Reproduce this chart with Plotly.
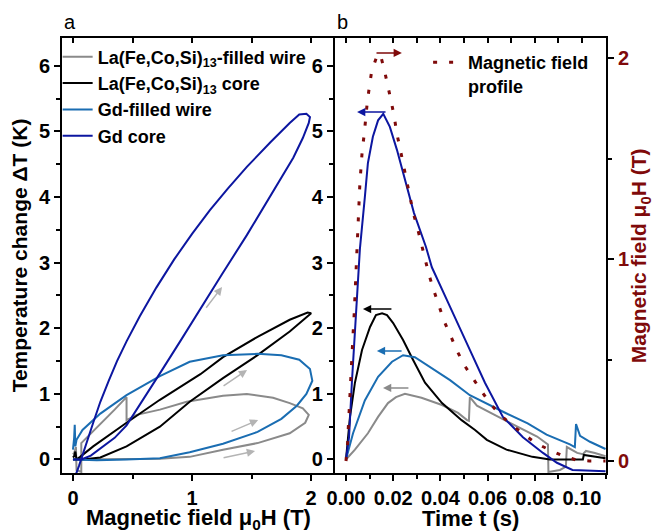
import plotly.graph_objects as go

# ---------------- data: panel a (temperature change vs field) ----------------
la_wire_H = [0.00, 0.10, 0.45, 0.73, 0.98, 1.26, 1.55, 1.82, 1.95, 1.98, 1.93, 1.82, 1.68, 1.46, 1.26, 1.07,
             0.955, 0.73, 0.535, 0.45, 0.45, 0.35, 0.25, 0.17, 0.07, 0.07, 0.03, 0.025, 0.01, 0.00]
la_wire_dT = [0.00, 0.00, 0.00, 0.01, 0.04, 0.15, 0.25, 0.40, 0.56, 0.68, 0.78, 0.86, 0.94, 1.00, 0.97, 0.91,
              0.88, 0.76, 0.68, 0.60, 0.95, 0.76, 0.58, 0.43, 0.25, -0.19, -0.16, 0.19, 0.10, 0.08]

la_core_H = [0.00, 0.08, 0.23, 0.45, 0.73, 0.98, 1.26, 1.55, 1.82, 1.96, 2.00, 1.97, 1.82, 1.55, 1.26, 1.07,
             0.73, 0.45, 0.17, 0.06, 0.03, 0.02, 0.01, 0.00]
la_core_dT = [0.00, 0.00, 0.03, 0.20, 0.50, 0.88, 1.24, 1.59, 1.95, 2.17, 2.23, 2.24, 2.13, 1.87, 1.56, 1.30,
              0.91, 0.56, 0.20, 0.04, 0.00, 0.12, 0.05, 0.03]

gd_wire_H = [0.00, 0.20, 0.45, 0.73, 0.98, 1.26, 1.55, 1.75, 1.88, 1.96, 2.01, 1.99, 1.90, 1.75, 1.55, 1.26,
             0.98, 0.73, 0.45, 0.23, 0.08, 0.03, 0.02, 0.015, 0.01, 0.005, 0.00]
gd_wire_dT = [0.00, -0.01, 0.00, 0.02, 0.11, 0.24, 0.42, 0.62, 0.82, 1.00, 1.20, 1.38, 1.52, 1.59, 1.61, 1.59,
              1.49, 1.27, 0.98, 0.70, 0.45, 0.30, 0.20, 0.53, 0.33, 0.22, 0.15]

gd_core_H = [0.00, 0.07, 0.15, 0.25, 0.35, 0.45, 0.59, 0.75, 0.90, 1.07, 1.25, 1.46, 1.62, 1.74, 1.85, 1.93,
             1.98, 1.99, 1.96, 1.90, 1.82, 1.66, 1.46, 1.30, 1.15, 1.00, 0.85, 0.70, 0.56, 0.45, 0.37,
             0.30, 0.23, 0.17, 0.12, 0.08, 0.05, 0.03, 0.02]
gd_core_dT = [0.00, 0.00, 0.06, 0.19, 0.33, 0.52, 0.91, 1.37, 1.80, 2.30, 2.82, 3.42, 3.90, 4.25, 4.60, 4.90,
              5.13, 5.22, 5.27, 5.26, 5.13, 4.84, 4.46, 4.13, 3.80, 3.44, 3.05, 2.62, 2.18, 1.80, 1.50,
              1.20, 0.88, 0.56, 0.27, 0.05, -0.10, -0.20, -0.25]

# ---------------- data: panel b (time traces) ----------------
t_la_wire = [0.0, 0.0038, 0.0093, 0.0136, 0.0178, 0.0212, 0.0250, 0.0320, 0.0407, 0.0475, 0.0513, 0.0521,
             0.0525, 0.0555, 0.0640, 0.0725, 0.0810, 0.0856, 0.0858, 0.0907, 0.0932, 0.0936, 0.0980, 0.1004,
             0.1017, 0.1055, 0.1100]
dT_la_wire = [0.0, 0.15, 0.40, 0.65, 0.86, 0.95, 1.00, 0.94, 0.83, 0.71, 0.60, 0.59,
              0.95, 0.82, 0.66, 0.50, 0.35, 0.23, -0.19, -0.16, -0.11, 0.19, 0.10, 0.08,
              0.13, 0.10, 0.05]

t_la_core = [0.0, 0.0017, 0.0038, 0.0068, 0.0102, 0.0127, 0.0153, 0.0174, 0.0200, 0.0242, 0.0284, 0.0335,
             0.0407, 0.0490, 0.0547, 0.0597, 0.0680, 0.0790, 0.0864, 0.1004, 0.1008, 0.1055, 0.1100]
dT_la_core = [0.0, 0.65, 1.17, 1.67, 2.02, 2.20, 2.23, 2.20, 2.08, 1.82, 1.52, 1.17,
              0.86, 0.60, 0.45, 0.30, 0.15, 0.04, 0.00, 0.00, 0.07, 0.05, 0.02]

t_gd_wire = [0.0, 0.0030, 0.0080, 0.0136, 0.0195, 0.0242, 0.0292, 0.0356, 0.0441, 0.0525, 0.0600, 0.0670,
             0.0770, 0.0850, 0.0949, 0.0970, 0.0975, 0.0992, 0.1034, 0.1100]
dT_gd_wire = [0.0, 0.40, 0.90, 1.26, 1.49, 1.59, 1.56, 1.41, 1.21, 0.98, 0.84, 0.72,
              0.55, 0.38, 0.23, 0.19, 0.54, 0.36, 0.27, 0.16]

t_gd_core = [0.0, 0.0013, 0.0025, 0.0042, 0.0059, 0.0080, 0.0093, 0.0114, 0.0136, 0.0158, 0.0186, 0.0216,
             0.0250, 0.0288, 0.0339, 0.0364, 0.0428, 0.0490, 0.0525, 0.0589, 0.0665, 0.0750, 0.0835, 0.0894,
             0.0960, 0.1100]
dT_gd_core = [0.0, 0.34, 1.17, 2.17, 3.21, 4.00, 4.52, 4.92, 5.17, 5.27, 5.07, 4.72,
              4.26, 3.76, 3.24, 2.93, 2.43, 1.93, 1.67, 1.17, 0.65, 0.34, 0.10, -0.05,
              -0.16, -0.18]

field_t = [0.0, 0.0007, 0.0010, 0.0013, 0.0016, 0.0020, 0.0024, 0.0027, 0.0031, 0.0035, 0.0038, 0.0041,
           0.0044, 0.0046, 0.0048, 0.0052, 0.0055, 0.0059, 0.0064, 0.0069, 0.0077, 0.0083, 0.0090, 0.0099,
           0.0109, 0.0130, 0.0145, 0.0162, 0.0175, 0.0191, 0.0205, 0.0215, 0.0229, 0.0243, 0.0257, 0.0271,
           0.0285, 0.0304, 0.0321, 0.0335, 0.0352, 0.0374, 0.0395, 0.0417, 0.0445, 0.0469, 0.0501, 0.0535,
           0.0571, 0.0607, 0.0650, 0.0702, 0.0751, 0.0801, 0.0857, 0.0911, 0.0975, 0.1031, 0.1100]
field_H = [0.0, 0.089, 0.169, 0.248, 0.328, 0.412, 0.486, 0.566, 0.650, 0.734, 0.814, 0.898,
           0.983, 1.057, 1.136, 1.220, 1.295, 1.380, 1.460, 1.543, 1.618, 1.700, 1.777, 1.856,
           1.935, 2.005, 2.020, 1.944, 1.866, 1.788, 1.706, 1.628, 1.552, 1.469, 1.395, 1.312,
           1.232, 1.151, 1.072, 0.998, 0.923, 0.840, 0.766, 0.691, 0.617, 0.551, 0.476, 0.413,
           0.352, 0.291, 0.233, 0.179, 0.134, 0.091, 0.058, 0.030, 0.005, 0.0, 0.0]

names = ["La(Fe,Co,Si)<sub>13</sub>-filled wire", "La(Fe,Co,Si)<sub>13</sub> core", "Gd-filled wire", "Gd core"]
colors = ["#8a8a8a", "#000000", "#1a6db2", "#0c16a0"]
field_color = "#7f0a0a"

FONT = "Liberation Sans, Arial, sans-serif"

fig = go.Figure()

loops = [(la_wire_H, la_wire_dT), (la_core_H, la_core_dT), (gd_wire_H, gd_wire_dT), (gd_core_H, gd_core_dT)]
times = [(t_la_wire, dT_la_wire), (t_la_core, dT_la_core), (t_gd_wire, dT_gd_wire), (t_gd_core, dT_gd_core)]

for (hx, hy), nm, c in zip(loops, names, colors):
    fig.add_trace(go.Scatter(x=hx, y=hy, mode="lines", name=nm, line=dict(color=c, width=2),
                             xaxis="x", yaxis="y", legend="legend", hoverinfo="skip"))

for (tx, ty), nm, c in zip(times, names, colors):
    fig.add_trace(go.Scatter(x=tx, y=ty, mode="lines", name=nm, line=dict(color=c, width=2),
                             xaxis="x2", yaxis="y2", showlegend=False, hoverinfo="skip"))

fig.add_trace(go.Scatter(x=field_t, y=field_H, mode="lines", name="Magnetic field<br>profile",
                         line=dict(color=field_color, width=3, dash="4px,12px"),
                         xaxis="x2", yaxis="y3", legend="legend2", hoverinfo="skip"))

# invisible traces for the mirrored top axes
fig.add_trace(go.Scatter(x=[None], y=[None], xaxis="x3", yaxis="y", showlegend=False, hoverinfo="skip"))
fig.add_trace(go.Scatter(x=[None], y=[None], xaxis="x4", yaxis="y2", showlegend=False, hoverinfo="skip"))

tickfont = dict(family=FONT, size=20, color="black", weight="bold")
titlefont = dict(family=FONT, size=22, color="black", weight="bold")
ytitlefont = dict(family=FONT, size=21, color="black", weight="bold")
split = 0.5018
xr_a = [-0.092, 2.20]
xr_b = [-0.00466, 0.1102]
yr = [-0.206, 6.425]

common = dict(showline=True, linewidth=2, linecolor="black", showgrid=False, zeroline=False,
              ticks="outside", ticklen=6, tickwidth=2, tickcolor="black", tickfont=tickfont)
minor_y = dict(dtick=0.5, ticks="outside", ticklen=4, tickwidth=1.5, tickcolor="black")

fig.update_layout(
    width=654, height=532,
    margin=dict(l=62, r=48, t=38, b=59, autoexpand=False),
    plot_bgcolor="white", paper_bgcolor="white",
    font=dict(family=FONT, color="black"),
    xaxis=dict(domain=[0, split], range=xr_a, anchor="y", tick0=0, dtick=1,
               minor=dict(dtick=0.5, ticks="outside", ticklen=4, tickwidth=1.5, tickcolor="black"),
               **common),
    yaxis=dict(domain=[0, 1], range=yr, anchor="x", tick0=0, dtick=1, minor=minor_y,
               title=dict(text="Temperature change ΔT (K)", font=ytitlefont, standoff=6), **common),
    xaxis2=dict(domain=[split, 1], range=xr_b, anchor="y2", tick0=0, dtick=0.02, tickformat=".2f",
                minor=dict(dtick=0.01, ticks="outside", ticklen=4, tickwidth=1.5, tickcolor="black"),
                **common),
    yaxis2=dict(domain=[0, 1], range=yr, anchor="x2", side="left", tick0=0, dtick=1, minor=minor_y,
                **common),
    yaxis3=dict(range=[-0.0596, 2.099], overlaying="y2", anchor="x2", side="right", tick0=0, dtick=1,
                showline=True, linewidth=2, linecolor="black", showgrid=False, zeroline=False,
                ticks="outside", ticklen=6, tickwidth=2, tickcolor="black",
                tickfont=dict(family=FONT, size=20, color=field_color, weight="bold"),
                minor=minor_y),
    xaxis3=dict(range=xr_a, overlaying="x", anchor="y", side="top", tick0=0, dtick=0.5,
                showline=True, linewidth=2, linecolor="black", showgrid=False, zeroline=False,
                ticks="inside", ticklen=5, tickwidth=1.5, tickcolor="black", showticklabels=False),
    xaxis4=dict(range=xr_b, overlaying="x2", anchor="y2", side="top", tick0=0, dtick=0.01,
                showline=True, linewidth=2, linecolor="black", showgrid=False, zeroline=False,
                ticks="inside", ticklen=5, tickwidth=1.5, tickcolor="black", showticklabels=False),
    legend=dict(x=-0.008, y=0.999, xanchor="left", yanchor="top", bgcolor="rgba(0,0,0,0)",
                font=dict(family=FONT, size=18, color="black", weight="bold"), traceorder="normal",
                tracegroupgap=0),
    legend2=dict(x=0.673, y=0.986, xanchor="left", yanchor="top", bgcolor="rgba(0,0,0,0)",
                 font=dict(family=FONT, size=18, color="black", weight="bold"), valign="top"),
    showlegend=True,
)

# axis titles placed as annotations (paper coordinates)
fig.add_annotation(text="Magnetic field μ<sub>0</sub>H (T)", x=split / 2, y=-0.105, xref="paper", yref="paper",
                   showarrow=False, font=titlefont, xanchor="center", yanchor="middle")
fig.add_annotation(text="Time t (s)", x=(split + 1) / 2, y=-0.105, xref="paper", yref="paper",
                   showarrow=False, font=titlefont, xanchor="center", yanchor="middle")
fig.add_annotation(text="Magnetic field μ<sub>0</sub>H (T)", x=1.062, y=0.5, xref="paper", yref="paper",
                   showarrow=False, textangle=-90, xanchor="center", yanchor="middle",
                   font=dict(family=FONT, size=21, color=field_color, weight="bold"))

# panel labels
fig.add_annotation(text="a", x=0.0147, y=1.0368, xref="paper", yref="paper", showarrow=False,
                   font=dict(family=FONT, size=20, color="black"), xanchor="center", yanchor="middle")
fig.add_annotation(text="b", x=0.5165, y=1.0368, xref="paper", yref="paper", showarrow=False,
                   font=dict(family=FONT, size=20, color="black"), xanchor="center", yanchor="middle")

# direction arrows in panel a (tail -> head)
arrows_a = [((1.109, 2.29), (1.252, 2.63)), ((1.252, 1.105), (1.462, 1.364)),
            ((1.319, 0.419), (1.555, 0.602)), ((1.252, 0.023), (1.529, 0.13))]
for (tx, ty), (hx, hy) in arrows_a:
    fig.add_annotation(x=hx, y=hy, ax=tx, ay=ty, xref="x", yref="y", axref="x", ayref="y", text="",
                       showarrow=True, arrowhead=2, arrowsize=1.1, arrowwidth=1.5, arrowcolor="#b4b4b4")

# axis-indicator arrows in panel b
arrows_b = [((0.0123, 6.197), (0.0237, 6.197), field_color),
            ((0.0174, 5.297), (0.0047, 5.297), colors[3]),
            ((0.0199, 2.294), (0.0072, 2.294), colors[1]),
            ((0.0242, 1.654), (0.0131, 1.654), colors[2]),
            ((0.0271, 1.090), (0.0157, 1.090), colors[0])]
for (tx, ty), (hx, hy), c in arrows_b:
    fig.add_annotation(x=hx, y=hy, ax=tx, ay=ty, xref="x2", yref="y2", axref="x2", ayref="y2", text="",
                       showarrow=True, arrowhead=2, arrowsize=1.1, arrowwidth=1.5, arrowcolor=c)

fig.write_html("out.html", config={"displayModeBar": False},
               post_script="document.body.style.margin='0';document.body.style.padding='0';")
